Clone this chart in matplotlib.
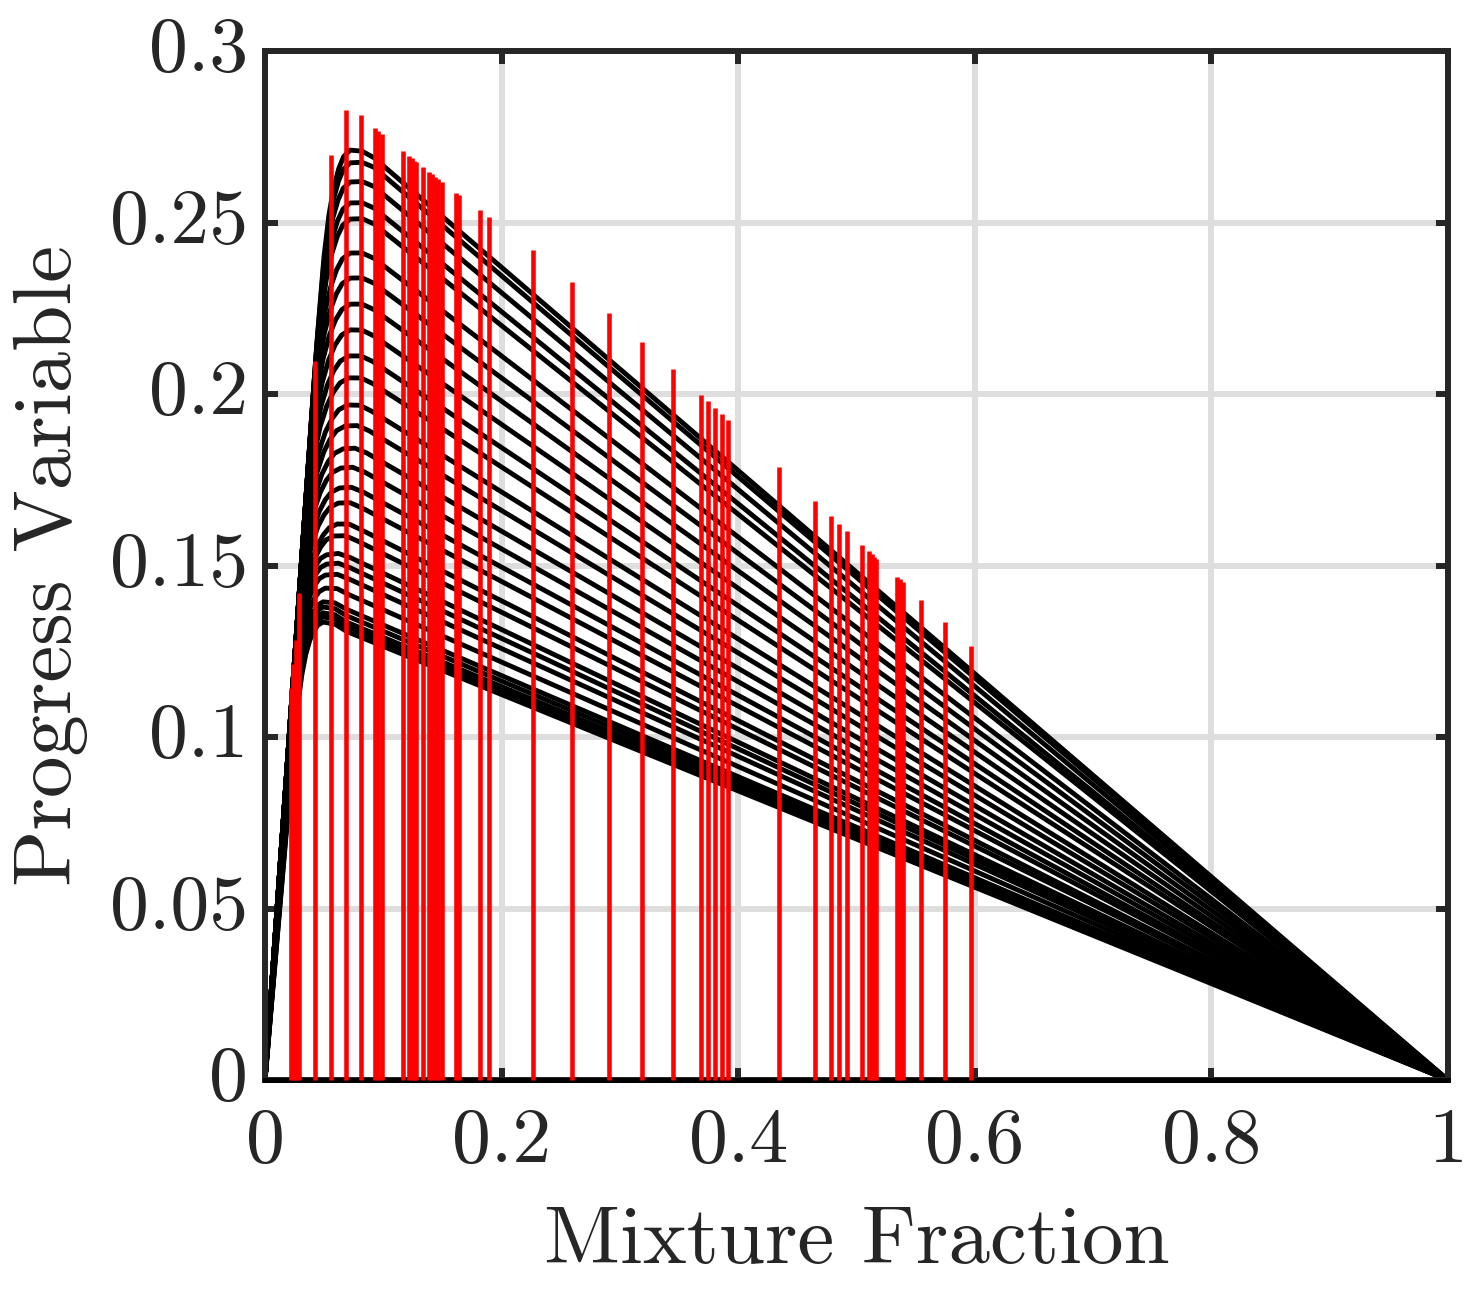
import matplotlib
matplotlib.use("Agg")
import matplotlib.pyplot as plt
from matplotlib.transforms import ScaledTranslation
import numpy as np

W, H = 1482, 1293
DARK = "#262626"

# black curves
peak_y = [.2711,.2674,.2618,.2557,.2510,.2411,.2338,.2262,.2187,.2111,.2047,.1968,.1907,.1840,.1784,.1726,
          .1682,.1621,.1586,.1531,.1504,.1472,.1434,.1394,.1379,.1362,.1350,.1335]
peak_z = [.072,.072,.072,.072,.072,.072,.072,.072,.072,.071,.071,.070,.068,.066,.064,.063,
          .062,.061,.058,.052,.052,.051,.051,.049,.049,.049,.049,.049]
knee_z = [.0443,.0437,.0427,.0417,.0410,.0394,.0382,.0369,.0357,.0345,.0334,.0321,.0313,.0302,.0293,.0285,
          .0278,.0271,.0268,.0261,.0258,.0255,.0252,.0262,.0264,.0265,.0266,.0267]
y_at_035 = [.1925,.1905,.1865,.1820,.1787,.1715,.1663,.1608,.1553,.1498,.1452,.1393,.1349,.1300,.1258,.1215,
            .1181,.1135,.1108,.1067,.1046,.1022,.0990,.0958,.0945,.0932,.0923,.0913]
# shape of the rounded shoulder between knee and peak
shoulder_t = [0, .2, .35, .5, .65, .8, 1]
shoulder_y = [.80, .885, .93, .96, .98, .993, 1]

# red segments
red_z = [.0220,.0237,.0262,.0287,.0423,.0558,.0685,.0811,.0930,.0958,.0986,.1167,.1217,.1240,.1260,.1276,
         .1336,.1386,.1412,.1440,.1462,.1494,.1615,.1640,.1817,.1893,.2265,.2595,.2908,.3187,.3449,.3686,
         .3745,.3804,.3863,.3914,.4345,.4649,.4784,.4852,.4920,.5046,.5106,.5131,.5148,.5165,.5342,.5368,
         .5393,.5545,.5748,.5968]
red_top = [.1143,.1213,.1283,.1420,.2096,.2697,.2828,.2813,.2776,.2767,.2758,.2708,.2694,.2688,.2679,.2676,
           .2662,.2647,.2641,.2633,.2627,.2618,.2586,.2580,.2536,.2516,.2420,.2327,.2236,.2152,.2073,.1997,
           .1980,.1959,.1942,.1924,.1787,.1688,.1644,.1621,.1601,.1560,.1542,.1534,.1525,.1519,.1467,.1461,
           .1452,.1399,.1335,.1265]

x_ticks = [0, .2, .4, .6, .8, 1]
x_tick_labels = ["0", "0.2", "0.4", "0.6", "0.8", "1"]
y_ticks = [0, .05, .1, .15, .2, .25, .3]
y_tick_labels = ["0", "0.05", "0.1", "0.15", "0.2", "0.25", "0.3"]

plt.rcParams["font.family"] = ["cmr10", "DejaVu Serif"]
plt.rcParams["axes.formatter.use_mathtext"] = True

fig = plt.figure(figsize=(W / 100, H / 100), dpi=100)
ax = fig.add_axes([265 / W, 1 - 1080 / H, (1448 - 265) / W, (1080 - 51) / H])
ax.set_xlim(0, 1)
ax.set_ylim(0, .3)

ax.grid(True, color="#dedede", lw=4.3, zorder=0)
ax.set_axisbelow(True)

ax.plot([0, 1], [0, 0], color="black", lw=3.6, clip_on=False, zorder=6)
for yp, zp, zk, ym in zip(peak_y, peak_z, knee_z, y_at_035):
    zs = [0.0] + [zk + t * (zp - zk) for t in shoulder_t]
    ys = [0.0] + [s * yp for s in shoulder_y]
    z_a, z_b = zp + .01, zp + .02
    y_b = ym * (1 - z_b) / .65
    zs += [z_a, z_b, .35, 1.0]
    ys += [(yp + y_b) / 2 + .0008, y_b, ym, 0.0]
    ax.plot(zs, ys, color="black", lw=3.5, solid_joinstyle="round", zorder=3)

ax.vlines(red_z, 0, red_top, color="#ff0000", lw=3.3, zorder=7, clip_on=False)

ax.set_xticks(x_ticks)
ax.set_xticklabels(x_tick_labels)
ax.set_yticks(y_ticks)
ax.set_yticklabels(y_tick_labels)
ax.tick_params(axis="both", which="major", direction="in", length=9, width=4.3,
               color=DARK, labelcolor=DARK, labelsize=56, top=True, right=True)
ax.tick_params(axis="x", pad=20)
ax.tick_params(axis="y", pad=12)
up = ScaledTranslation(0, 7 / 100, fig.dpi_scale_trans)
for lab in ax.get_yticklabels():
    lab.set_transform(lab.get_transform() + up)
for s in ax.spines.values():
    s.set_linewidth(4.3)
    s.set_color(DARK)
    s.set_zorder(5)

fig.text(857 / W, 1 - 1242 / H, "Mixture Fraction", color=DARK, fontsize=59.8, ha="center", va="center")
fig.text(51 / W, 1 - 565 / H, "Progress Variable", color=DARK, fontsize=59.8, ha="center", va="center",
         rotation=90)

fig.savefig("out.png", dpi=100)
